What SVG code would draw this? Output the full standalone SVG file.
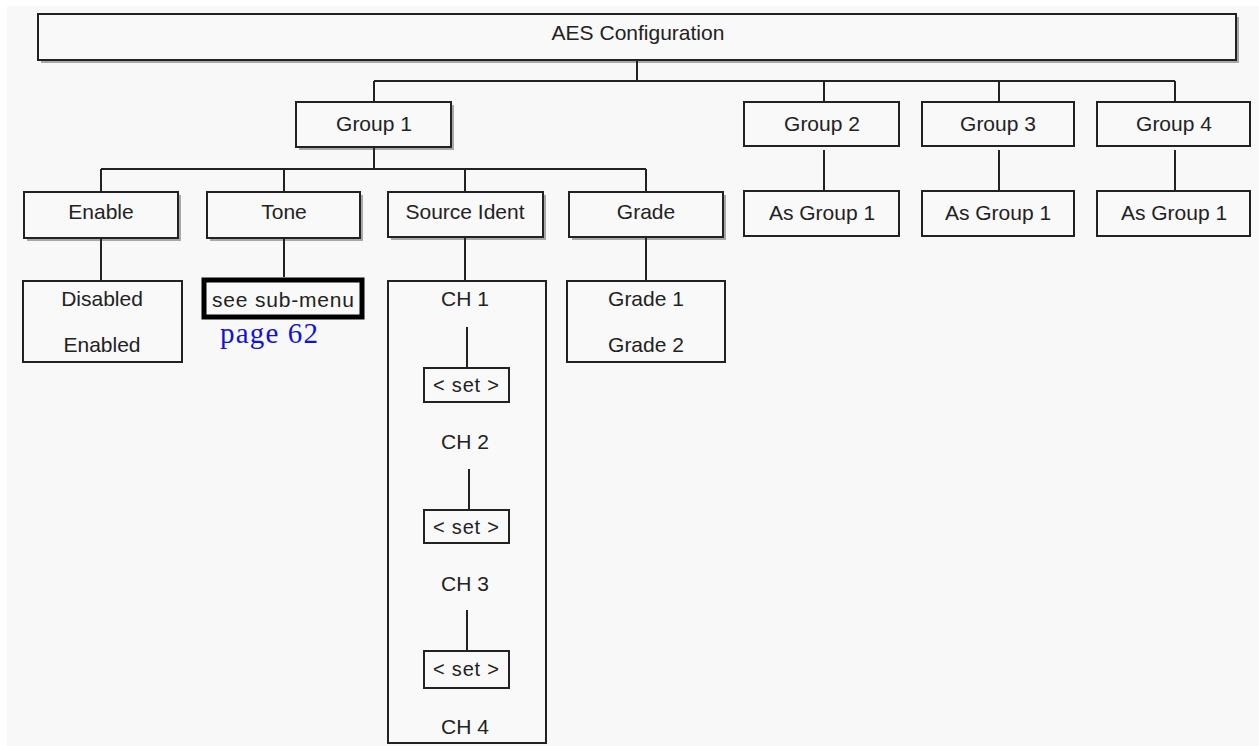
<svg xmlns="http://www.w3.org/2000/svg" width="1259" height="746" viewBox="0 0 1259 746">
<style>
.b{fill:#f9f9f9;stroke:#222;stroke-width:2}
.s{fill:#a8a8a8}
.t{font-family:"Liberation Sans",Arial,sans-serif;font-size:21px;fill:#222;text-anchor:middle}
.sm{font-size:20px}
.c{stroke:#222;stroke-width:2;fill:none}
</style>
<rect x="0" y="0" width="1259" height="746" fill="#ffffff"/>
<rect x="7" y="6" width="1252" height="740" fill="#f8f8f8"/>
<g id="aes"><rect class="s" x="41" y="17" width="1198" height="46"/><rect class="b" x="38" y="14" width="1198" height="46"/><text class="t" x="638" y="40">AES Configuration</text></g>
<g id="group1"><rect class="s" x="299" y="105" width="155" height="45"/><rect class="b" x="296" y="102" width="155" height="45"/><text class="t" x="374" y="131">Group 1</text></g>
<g id="group2"><rect class="b" x="744" y="102" width="155" height="44"/><text class="t" x="822" y="131">Group 2</text></g>
<g id="group3"><rect class="b" x="922" y="102" width="152" height="44"/><text class="t" x="998" y="131">Group 3</text></g>
<g id="group4"><rect class="b" x="1097" y="102" width="153" height="44"/><text class="t" x="1174" y="131">Group 4</text></g>
<g id="as2"><rect class="b" x="744" y="191" width="155" height="45"/><text class="t" x="822" y="220">As Group 1</text></g>
<g id="as3"><rect class="b" x="922" y="191" width="152" height="45"/><text class="t" x="998" y="220">As Group 1</text></g>
<g id="as4"><rect class="b" x="1097" y="191" width="153" height="45"/><text class="t" x="1174" y="220">As Group 1</text></g>
<g id="enable"><rect class="s" x="27" y="195" width="154" height="46"/><rect class="b" x="24" y="192" width="154" height="46"/><text class="t" x="101" y="219">Enable</text></g>
<g id="tone"><rect class="s" x="210" y="195" width="153" height="46"/><rect class="b" x="207" y="192" width="153" height="46"/><text class="t" x="284" y="219">Tone</text></g>
<g id="source"><rect class="s" x="391" y="195" width="155" height="45"/><rect class="b" x="388" y="192" width="155" height="45"/><text class="t" x="465" y="219">Source Ident</text></g>
<g id="grade"><rect class="s" x="572" y="195" width="154" height="45"/><rect class="b" x="569" y="192" width="154" height="45"/><text class="t" x="646" y="219">Grade</text></g>
<g id="enopts"><rect class="b" x="23" y="281" width="159" height="81"/><text class="t" x="102" y="306">Disabled</text><text class="t" x="102" y="352">Enabled</text></g>
<g id="submenu"><rect x="204" y="280" width="158" height="37" fill="#f9f9f9" stroke="#000" stroke-width="5"/><text class="t" x="283" y="307" style="font-size:21px" textLength="142">see sub-menu</text><text x="220" y="343" style="font-family:'Liberation Serif','Times New Roman',serif;font-size:29px;fill:#1010e0" textLength="98">page 62</text></g>
<g id="gradeopts"><rect class="b" x="567" y="281" width="158" height="81"/><text class="t" x="646" y="306">Grade 1</text><text class="t" x="646" y="352">Grade 2</text></g>
<g id="channels"><rect class="b" x="388" y="281" width="158" height="462"/>
<text class="t" x="465" y="306">CH 1</text><text class="t" x="465" y="449">CH 2</text><text class="t" x="465" y="591">CH 3</text><text class="t" x="465" y="734">CH 4</text></g>
<g id="set1"><rect class="b" x="424" y="368" width="85" height="34"/><text class="t sm" x="466" y="392" textLength="66">&lt; set &gt;</text></g>
<g id="set2"><rect class="b" x="424" y="510" width="85" height="33"/><text class="t sm" x="466" y="534" textLength="66">&lt; set &gt;</text></g>
<g id="set3"><rect class="b" x="424" y="651" width="85" height="37"/><text class="t sm" x="466" y="676" textLength="66">&lt; set &gt;</text></g>
<g id="connectors">
<path class="c" d="M637 61V81M374 81H1175M374 81V101M824 81V101M999 81V101M1175 81V101"/>
<path class="c" d="M374 148V169M101 169H646M101 169V191M284 169V191M465 169V191M646 169V191"/>
<path class="c" d="M824 150V190M999 150V190M1175 150V190"/>
<path class="c" d="M101 239V280M284 239V277M465 238V280M646 238V280"/>
<path class="c" d="M467 327V367M469 469V509M467 610V650"/>
</g>
</svg>
